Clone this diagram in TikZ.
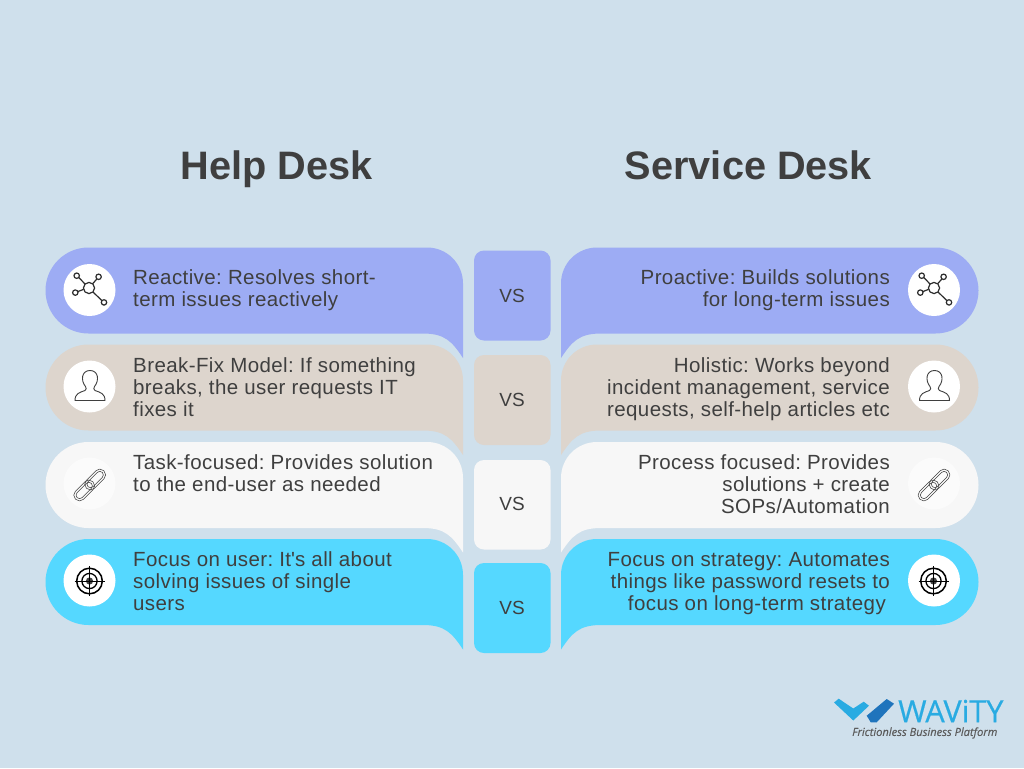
\documentclass[tikz,border=0pt]{standalone}
\usepackage{fontspec}
\setmainfont{Liberation Sans}
\newfontfamily\plainface{Liberation Sans}[LetterSpace=2]
\newfontfamily\bodyface{Liberation Sans}[LetterSpace=2,Ligatures=TeX]
\newfontfamily\logoface{Open Sans}[FakeBold=0.6]
\newfontfamily\tagface{Open Sans}[FakeBold=0.25]
\definecolor{bgc}{HTML}{CFE0EC}
\definecolor{rowa}{HTML}{9DACF4}
\definecolor{rowb}{HTML}{DDD5CD}
\definecolor{rowc}{HTML}{F7F7F7}
\definecolor{rowd}{HTML}{55D8FF}
\definecolor{ink}{HTML}{3F3F3F}
\definecolor{logoa}{HTML}{29ABE2}
\definecolor{logob}{HTML}{1F74BC}
\frenchspacing
\newcommand{\bubbleshape}[2]{%
  \fill[#2,shift={(0,#1)}] (88.5,0) -- (427,0) .. controls (447,0) and (463,16) .. (463,36)
    -- (463,110.5) .. controls (452,94) and (445,86) .. (423,86) -- (88.5,86)
    .. controls (64.75,86) and (45.5,66.75) .. (45.5,43) .. controls (45.5,19.25) and (64.75,0) .. (88.5,0) -- cycle;}
\newcommand{\rowpair}[2]{%
  \bubbleshape{#1}{#2}
  \begin{scope}[shift={(1024,0)},xscale=-1]\bubbleshape{#1}{#2}\end{scope}}
\newcommand{\neticon}[2]{%
  \begin{scope}[shift={(#1,#2)},line width=1.2pt,draw=ink!70!black]
    \draw (0,-2) circle (5.6);
    \draw (-3.8,-5.8) -- (-10.2,-12.5) (3.6,-6.2) -- (8,-11.2) (-5.5,-.6) -- (-11.2,1.6) (4,2) -- (12.8,10.5);
    \draw (-12.3,-14.3) circle (2.7) (9.6,-13.2) circle (2.7) (-13.7,2.6) circle (2.7) (15,12.4) circle (2.7);
  \end{scope}}
\newcommand{\personicon}[2]{%
  \begin{scope}[shift={(#1,#2)},line width=.9pt,draw=ink]
    \draw (-14.5,14) -- (15.5,14) .. controls (15.5,7) and (11,6) .. (5.5,4)
      .. controls (4,3) and (4,1.5) .. (5,0) .. controls (10,-6) and (9,-16) .. (.5,-16)
      .. controls (-8,-16) and (-9,-6) .. (-4,0) .. controls (-3,1.5) and (-3,3) .. (-4.5,4)
      .. controls (-10,6) and (-14.5,7) .. (-14.5,14) -- cycle;
  \end{scope}}
\newcommand{\linkicon}[2]{%
  \begin{scope}[shift={(#1,#2)},rotate=45,line width=.55pt,draw=ink]
    \draw[rounded corners=5.4pt] (-20,-5.7) rectangle (4.5,5.7);
    \draw[rounded corners=3.4pt] (-17.8,-3.5) rectangle (2.3,3.5);
    \draw[rounded corners=5.4pt] (-4.5,-5.7) rectangle (20,5.7);
    \draw[rounded corners=3.4pt] (-2.3,-3.5) rectangle (17.8,3.5);
  \end{scope}}
\newcommand{\targeticon}[2]{%
  \begin{scope}[shift={(#1,#2)},draw=black]
    \draw[line width=1.5pt] (0,0) circle (12.8);
    \draw[line width=1.3pt] (0,0) circle (7.6);
    \fill[ink] (0,0) circle (3.6);
    \draw[line width=.5pt] (-15,0) -- (15,0) (0,-15) -- (0,15);
  \end{scope}}
\tikzset{
  x=1pt,y=-1pt,
  vsbox/.style={fill=#1,rounded corners=10pt,draw=none},
  badge/.style={circle,fill=#1,minimum size=52pt,inner sep=0pt,draw=none},
  lefttext/.style={anchor=base west,align=left,inner sep=0pt,text=ink,font=\bodyface\fontsize{20.5}{22}\selectfont},
  righttext/.style={anchor=base east,align=right,inner sep=0pt,text=ink,font=\bodyface\fontsize{20.5}{22}\selectfont},
  vstext/.style={anchor=center,inner sep=0pt,text=ink,font=\fontsize{19}{22}\selectfont},
  headtext/.style={anchor=base,inner sep=0pt,text=ink,font=\fontsize{39.7}{44}\selectfont\bfseries},
}
\begin{document}
\begin{tikzpicture}
\fill[bgc] (0,0) rectangle (1024,768);
\useasboundingbox (0,0) rectangle (1024,768);

\node[headtext] (helpdesk) at (276.5,179) {Help Desk};
\node[headtext] (servicedesk) at (748.5,179) {Service Desk};

\rowpair{247.5}{rowa}
\rowpair{344.5}{rowb}
\rowpair{442}{rowc}
\rowpair{539}{rowd}

\fill[vsbox=rowa] (474,250.5) rectangle (550.5,340.5);
\fill[vsbox=rowb] (474,355) rectangle (550.5,445);
\fill[vsbox=rowc] (474,460) rectangle (550.5,549.5);
\fill[vsbox=rowd] (474,563) rectangle (550.5,653);
\node[vstext] (vsa) at (512,295.5) {VS};
\node[vstext] (vsb) at (512,400) {VS};
\node[vstext] (vsc) at (512,504) {VS};
\node[vstext] (vsd) at (512,608) {VS};

\node[badge=white] (ba) at (89.5,290) {};
\node[badge=white] (bb) at (89.5,386.5) {};
\node[badge=rowc!50!white] (bc) at (89.5,483.5) {};
\node[badge=white] (bd) at (89.5,580.5) {};
\node[badge=white] (ca) at (934,290) {};
\node[badge=white] (cb) at (934,386.5) {};
\node[badge=rowc!50!white] (cc) at (934,483.5) {};
\node[badge=white] (cd) at (934,580.5) {};
\neticon{89}{290}\neticon{934}{290}
\personicon{89.5}{386.5}\personicon{934}{386.5}
\linkicon{89.7}{485}\linkicon{934}{485}
\targeticon{89.5}{581}\targeticon{933.5}{581}

\node[lefttext] (la) at (133,306) {Reactive: Resolves short-\\term issues reactively};
\node[lefttext] (lb) at (133,416) {Break-Fix Model: If something\\breaks, the user requests IT\\fixes it};
\node[lefttext] (lc) at (133,491) {Task-focused: Provides solution\\to the end-user as needed};
\node[lefttext] (ld) at (133,610) {Focus on user: It{\plainface'}s all about\\solving issues of single\\users};
\node[righttext] (ra) at (890,306) {Proactive: Builds solutions\\for long-term issues};
\node[righttext] (rb) at (890,416) {Holistic: Works beyond\\incident management, service\\requests, self-help articles etc};
\node[righttext] (rc) at (890,513) {Process focused: Provides\\solutions + create\\SOPs/Automation};
\node[righttext] (rd) at (890,610) {Focus on strategy: Automates\\things like password resets to\\focus on long-term strategy\hspace*{4pt}};

\fill[logoa] (834,702.5) -- (838.7,698.7) -- (853.3,708.5) -- (863.7,701.7) -- (869,705.7) -- (853.3,720.5) -- cycle;
\fill[logob] (866.7,715.7) -- (886.7,699) -- (894,703.7) -- (876.7,722.3) -- (870.7,722.3) -- cycle;
\node[anchor=west,inner sep=0pt,text=logoa,font=\logoface\fontsize{30.6}{31}\selectfont] (wavity) at (898,711) {WAViTY};
\node[anchor=west,inner sep=0pt,text=ink!85,font=\tagface\fontsize{11.1}{12}\selectfont\itshape] (tagline) at (852,733) {Frictionless Business Platform};
\end{tikzpicture}
\end{document}
